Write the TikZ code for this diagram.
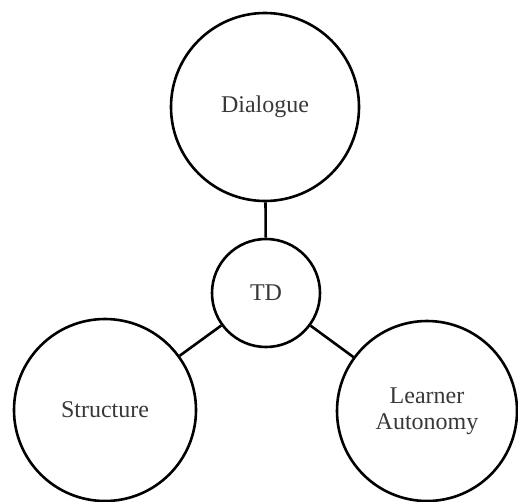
\documentclass[tikz,border=0pt]{standalone}
\usepackage{fontspec}
\setmainfont{Liberation Serif}
\definecolor{txtgray}{HTML}{383838}
\tikzset{
  ring/.style={circle, draw=black, line width=2.6pt, inner sep=0pt, text=txtgray,
    font=\fontsize{24}{26}\selectfont, align=center},
  link/.style={line width=2.6pt, draw=black}
}
\begin{document}
\begin{tikzpicture}[x=1pt,y=-1pt]
\useasboundingbox (0,0) rectangle (518,501);
\node[ring, minimum size=188pt] (dia) at (265,107) {Dialogue};
\node[ring, minimum size=108pt] (td) at (266,293) {TD};
\node[ring, minimum size=182pt] (str) at (105,410) {Structure};
\node[ring, minimum size=180pt] (la) at (427,411) {Learner\\Autonomy};
\draw[link] (dia) -- (td);
\draw[link] (td) -- (str);
\draw[link] (td) -- (la);
\end{tikzpicture}
\end{document}
